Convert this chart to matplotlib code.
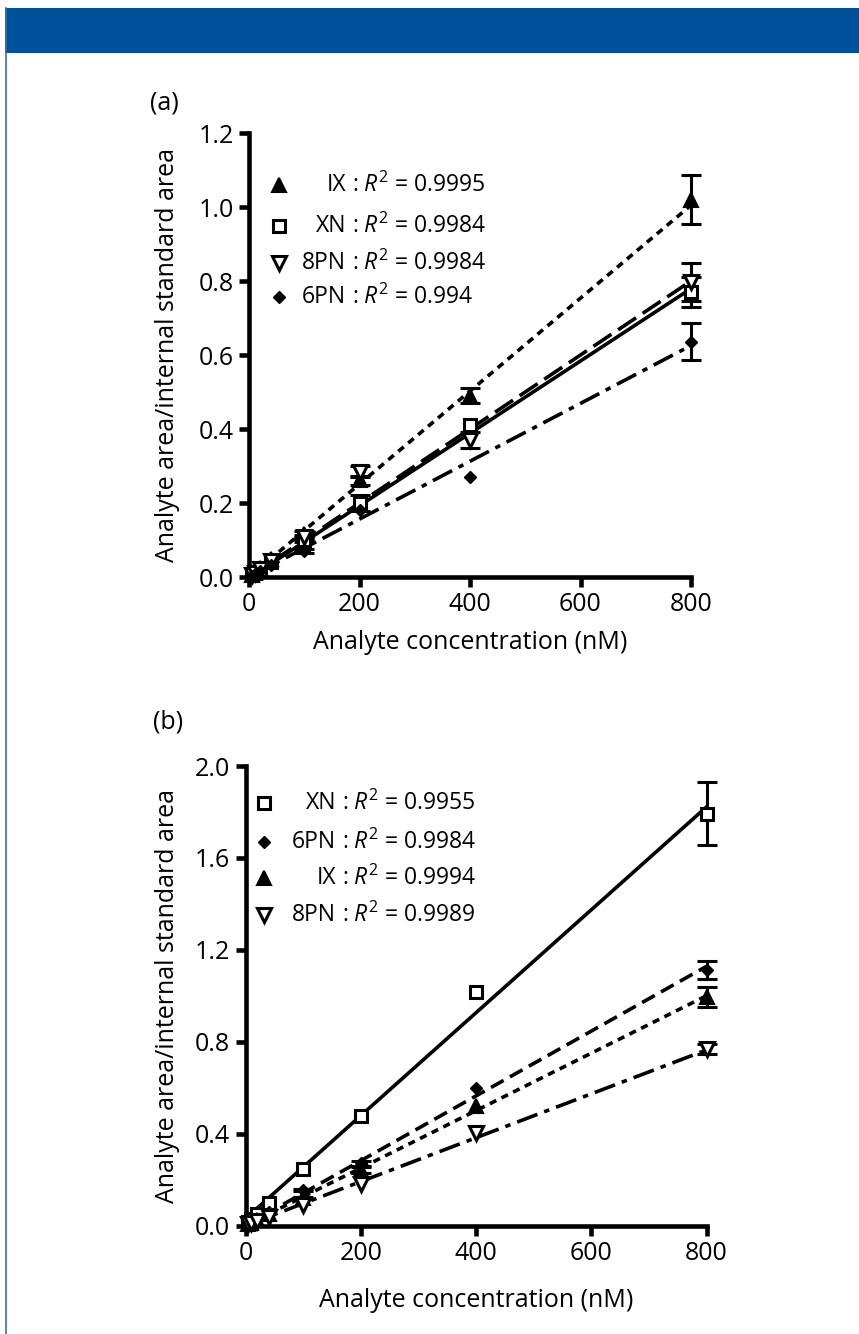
import numpy as np
import matplotlib
matplotlib.use("Agg")
import matplotlib.pyplot as plt
from matplotlib.lines import Line2D
from matplotlib.patches import Rectangle

plt.rcParams['font.family'] = ['Open Sans', 'DejaVu Sans']
plt.rcParams['mathtext.fontset'] = 'custom'
plt.rcParams['mathtext.rm'] = 'Open Sans'
plt.rcParams['mathtext.it'] = 'Open Sans:italic'

NA = float('nan')  # error bar too small to be seen

# ---------------- data ----------------
conc = [5, 10, 20, 40, 100, 200, 400, 800]

# panel (a)
a_names = ["IX", "XN", "8PN", "6PN"]
a_r2 = ["0.9995", "0.9984", "0.9984", "0.994"]
a_IX = [0.006, 0.012, 0.025, 0.05, 0.115, 0.262, 0.49, 1.02]
a_IX_err = [NA, NA, NA, NA, 0.008, 0.012, 0.02, 0.066]
a_XN = [0.005, 0.010, 0.020, 0.040, 0.100, 0.200, 0.412, 0.770]
a_XN_err = [NA, NA, NA, NA, 0.006, 0.022, NA, 0.040]
a_8PN = [0.005, 0.011, 0.021, 0.042, 0.108, 0.284, 0.370, 0.797]
a_8PN_err = [NA, NA, NA, NA, 0.006, 0.015, 0.022, 0.052]
a_6PN = [0.004, 0.008, 0.016, 0.032, 0.070, 0.180, 0.269, 0.636]
a_6PN_err = [NA, NA, NA, NA, 0.005, NA, NA, 0.050]
a_slope = [0.001256, 0.000978, 0.001000, 0.000782]
a_icpt = [0.0, -0.003, 0.0, 0.0]

# panel (b)
b_names = ["XN", "6PN", "IX", "8PN"]
b_r2 = ["0.9955", "0.9984", "0.9994", "0.9989"]
b_XN = [0.015, 0.03, 0.05, 0.100, 0.246, 0.477, 1.016, 1.793]
b_XN_err = [NA, NA, NA, NA, NA, NA, NA, 0.138]
b_6PN = [0.007, 0.014, 0.03, 0.060, 0.155, 0.271, 0.600, 1.113]
b_6PN_err = [NA, NA, NA, NA, 0.006, 0.010, NA, 0.038]
b_IX = [0.006, 0.012, 0.025, 0.050, 0.120, 0.242, 0.518, 0.995]
b_IX_err = [NA, NA, NA, NA, 0.006, 0.012, NA, 0.045]
b_8PN = [0.005, 0.010, 0.020, 0.038, 0.090, 0.181, 0.402, 0.768]
b_8PN_err = [NA, NA, NA, NA, NA, NA, NA, 0.022]
b_slope = [0.002240, 0.001410, 0.001250, 0.000955]
b_icpt = [0.030, 0.0, 0.0, 0.0]

x_ticks = [0, 200, 400, 600, 800]
a_yticks = [0.0, 0.2, 0.4, 0.6, 0.8, 1.0, 1.2]
b_yticks = [0.0, 0.4, 0.8, 1.2, 1.6, 2.0]

# ---------------- styles ----------------
W, H = 859, 1334
LW = 2.6
FS = 18
LFS = 16.5
mk = {
    "IX": dict(marker='^', ms=10, mfc='black', mec='black', mew=1.5),
    "XN": dict(marker='s', ms=8.5, mfc='white', mec='black', mew=2.2),
    "8PN": dict(marker='v', ms=10, mfc='white', mec='black', mew=2.2),
    "6PN": dict(marker='D', ms=6.5, mfc='black', mec='black', mew=1.0),
}
a_ls = {"IX": (0, (2.0, 1.6)), "XN": '-', "8PN": (0, (6, 2.2)), "6PN": (0, (6, 2.0, 1.5, 2.0))}
b_ls = {"XN": '-', "6PN": (0, (4.0, 2.0)), "IX": (0, (2.0, 1.6)), "8PN": (0, (6, 2.0, 1.5, 2.0))}

fig = plt.figure(figsize=(W / 100, H / 100), dpi=100)
fig.patch.set_facecolor('white')

# header band and frame
fig.add_artist(Rectangle((5 / W, 1 - 53 / H), 1 - 5 / W, 45 / H, transform=fig.transFigure,
                         facecolor='#00519b', edgecolor='none'))
fig.add_artist(Line2D([5.5 / W, 5.5 / W], [0, 1 - 8 / H], transform=fig.transFigure,
                      color='#3a6fb0', lw=1.2))


def px(x, y):
    return x / W, 1 - y / H


def style_axes(ax, ymax, yticks, xlabelpad, ylabelpad):
    ax.set_xlim(0, 800)
    ax.set_ylim(0, ymax)
    for s in ['top', 'right']:
        ax.spines[s].set_visible(False)
    for s in ['left', 'bottom']:
        ax.spines[s].set_linewidth(3.3)
        ax.spines[s].set_capstyle('projecting')
    ax.set_xticks(x_ticks)
    ax.set_yticks(yticks)
    ax.set_yticklabels([f"{v:.1f}" for v in yticks])
    ax.tick_params(direction='out', length=7, width=3.3, labelsize=FS, pad=4)
    ax.set_xlabel("Analyte concentration (nM)", fontsize=FS, labelpad=xlabelpad)
    ax.set_ylabel("Analyte area/internal standard area", fontsize=FS, labelpad=ylabelpad)


def draw_series(ax, name, y, err, slope, icpt, ls):
    x = np.array(conc, dtype=float)
    y = np.array(y, dtype=float)
    e = np.array(err, dtype=float)
    xs = np.array([0.0, x.max()])
    ax.plot(xs, slope * xs + icpt, color='black', lw=LW, ls=ls, zorder=2,
            clip_on=False, dash_capstyle='butt')
    ok = ~np.isnan(e)
    if ok.any():
        ax.errorbar(x[ok], y[ok], yerr=e[ok], fmt='none', ecolor='black', elinewidth=2.2,
                    capsize=7, capthick=2.2, zorder=3, clip_on=False)
    ax.plot(x, y, ls='none', zorder=4, clip_on=False, **mk[name])


def legend_rows(names, r2s, rows_y, marker_x, name_right, colon_x):
    for nm, r2, yy in zip(names, r2s, rows_y):
        fig.add_artist(Line2D([marker_x / W], [1 - yy / H], transform=fig.transFigure,
                              ls='none', **mk[nm]))
        fig.text(*px(name_right, yy), nm, ha='right', va='center', fontsize=LFS)
        fig.text(*px(colon_x, yy), r": $R^2$ = " + r2, ha='left', va='center', fontsize=LFS)


# ---- panel (a) ----
axa = fig.add_axes([249 / W, 1 - 577 / H, 442 / W, 444 / H])
style_axes(axa, 1.2, a_yticks, 9, 13)
a_data = {"IX": (a_IX, a_IX_err), "XN": (a_XN, a_XN_err),
          "8PN": (a_8PN, a_8PN_err), "6PN": (a_6PN, a_6PN_err)}
for nm, sl, ic in zip(a_names, a_slope, a_icpt):
    draw_series(axa, nm, a_data[nm][0], a_data[nm][1], sl, ic, a_ls[nm])
legend_rows(a_names, a_r2, [185, 226, 263, 297], 279, 346, 352)
fig.text(*px(150, 103), "(a)", ha='left', va='center', fontsize=FS)

# ---- panel (b) ----
axb = fig.add_axes([245.5 / W, 1 - 1225.5 / H, 461 / W, 459.5 / H])
style_axes(axb, 2.0, b_yticks, 16, 11)
b_data = {"XN": (b_XN, b_XN_err), "6PN": (b_6PN, b_6PN_err),
          "IX": (b_IX, b_IX_err), "8PN": (b_8PN, b_8PN_err)}
for nm, sl, ic in zip(b_names, b_slope, b_icpt):
    draw_series(axb, nm, b_data[nm][0], b_data[nm][1], sl, ic, b_ls[nm])
legend_rows(b_names, b_r2, [803, 842, 878, 915], 264, 336, 342)
fig.text(*px(153, 722), "(b)", ha='left', va='center', fontsize=FS)

fig.savefig("out.png", dpi=100)
